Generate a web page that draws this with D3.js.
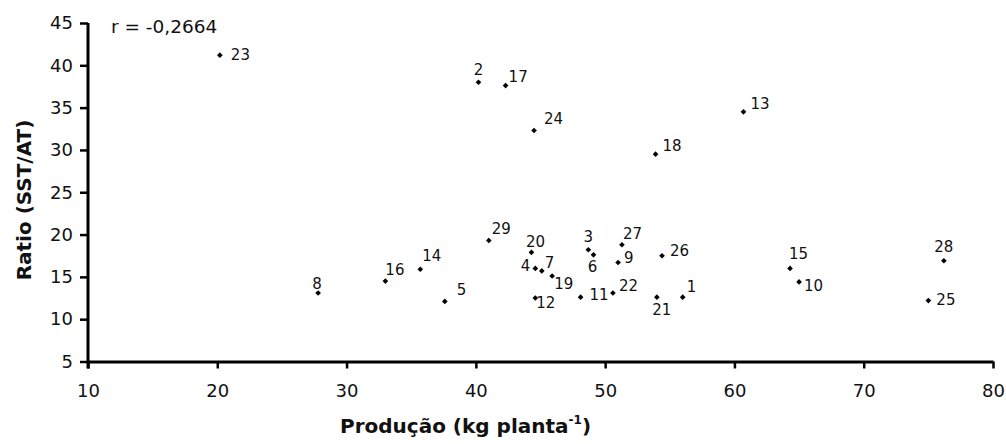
<!DOCTYPE html>
<html>
<head>
<meta charset="utf-8">
<script src="https://cdn.jsdelivr.net/npm/d3@7/dist/d3.min.js"></script>
<style>
  body { margin: 0; background: #fff; }
  svg text { font-family: "DejaVu Sans", Verdana, sans-serif; fill: #111; }
</style>
</head>
<body>
<div id="chart"></div>
<script>
// DATA
const pointIds = [1, 2, 3, 4, 5, 6, 7, 8, 9, 10, 11, 12, 13, 14, 15,
                  16, 17, 18, 19, 20, 21, 22, 23, 24, 25, 26, 27, 28, 29];
const producao = [56.0, 40.2, 48.7, 44.6, 37.6, 49.1, 45.1, 27.8, 51.0, 65.0, 48.1, 44.6, 60.7, 35.7, 64.3,
                  33.0, 42.3, 53.9, 45.9, 44.3, 54.0, 50.6, 20.2, 44.5, 75.0, 54.4, 51.3, 76.2, 41.0];
const ratio = [12.6, 38.0, 18.2, 16.0, 12.1, 17.6, 15.7, 13.1, 16.7, 14.4, 12.6, 12.5, 34.5, 15.9, 16.0,
               14.5, 37.6, 29.5, 15.1, 17.9, 12.6, 13.1, 41.2, 32.3, 12.2, 17.5, 18.8, 16.9, 19.3];
const xTicks = [10, 20, 30, 40, 50, 60, 70, 80];
const yTicks = [5, 10, 15, 20, 25, 30, 35, 40, 45];
const corrText = 'r = -0,2664';

// label placement next to each point [dx, dy, anchor] (layout only)
const labelPlace = {
  1: [4, -10, 'start'], 2: [0, -12, 'middle'], 3: [0, -13, 'middle'], 4: [-5, -2, 'end'],
  5: [12, -11, 'start'], 6: [-1, 12, 'middle'], 7: [3, -8, 'start'], 8: [-1, -9, 'middle'],
  9: [6, -4, 'start'], 10: [5, 4, 'start'], 11: [9, -2, 'start'], 12: [1, 5, 'start'],
  13: [7, -8, 'start'], 14: [2, -13, 'start'], 15: [-1, -14, 'start'], 16: [0, -11, 'start'],
  17: [3, -9, 'start'], 18: [7, -8, 'start'], 19: [2, 8, 'start'], 20: [4, -10, 'middle'],
  21: [5, 13, 'middle'], 22: [6, -7, 'start'], 23: [11, 0, 'start'], 24: [10, -11, 'start'],
  25: [8, -1, 'start'], 26: [8, -5, 'start'], 27: [1, -11, 'start'], 28: [0, -14, 'middle'],
  29: [3, -11, 'start']
};

// VIZ DIMENSIONS + MOUNTING
const width = 1006;
const height = 444;
const plotLeft = 88, plotRight = 993, plotTop = 23, plotBottom = 361.5;

const svg = d3.select('#chart').append('svg')
  .attr('width', width)
  .attr('height', height);

// SCALES
const xScale = d3.scaleLinear().domain([10, 80]).range([plotLeft, plotRight]);
const yScale = d3.scaleLinear().domain([5, 45]).range([plotBottom, plotTop]);

// AXES
const xAxis = d3.axisBottom(xScale).tickValues(xTicks).tickSize(7).tickSizeOuter(0).tickPadding(16);
const yAxis = d3.axisLeft(yScale).tickValues(yTicks).tickSize(8).tickSizeOuter(0).tickPadding(7);

const gx = svg.append('g')
  .attr('transform', `translate(0, ${plotBottom})`)
  .call(xAxis);
const gy = svg.append('g')
  .attr('transform', `translate(${plotLeft}, 0)`)
  .call(yAxis);

[gx, gy].forEach(g => {
  g.select('.domain').attr('stroke', '#000').attr('stroke-width', 3);
  g.selectAll('.tick line').attr('stroke', '#000').attr('stroke-width', 2.5);
  g.selectAll('.tick text')
    .style('font-family', '"DejaVu Sans", Verdana, sans-serif')
    .style('font-size', '18px')
    .attr('fill', '#111');
});
// the y axis line runs through the first x tick, like the original
gy.select('.domain').attr('d', `M0,${plotTop}V${plotBottom + 7}`);

// AXIS TITLES
svg.append('text')
  .attr('transform', `translate(24, 200) rotate(-90)`)
  .attr('text-anchor', 'middle')
  .attr('dominant-baseline', 'central')
  .style('font-size', '20px')
  .style('font-weight', 'bold')
  .text('Ratio (SST/AT)');

const xTitle = svg.append('text')
  .attr('x', 340)
  .attr('y', 433)
  .style('font-size', '20px')
  .style('font-weight', 'bold');
xTitle.append('tspan').text('Produção (kg planta');
xTitle.append('tspan').attr('dy', -9).style('font-size', '12px').text('-1');
xTitle.append('tspan').attr('dy', 9).text(')');

// CORRELATION NOTE
svg.append('text')
  .attr('x', 111)
  .attr('y', 26)
  .attr('dominant-baseline', 'central')
  .style('font-size', '18.5px')
  .text(corrText);

// POINTS
const pts = pointIds.map((id, i) => ({ id: id, x: producao[i], y: ratio[i] }));

const dots = svg.selectAll('g.dot')
  .data(pts)
  .enter()
  .append('g')
  .attr('class', 'dot')
  .attr('transform', d => `translate(${xScale(d.x)}, ${yScale(d.y)})`);

// small square turned 45 degrees = even diamond marker
dots.append('path')
  .attr('d', d3.symbol().type(d3.symbolSquare).size(16))
  .attr('transform', 'rotate(45)')
  .attr('fill', '#000');

dots.append('text')
  .attr('x', d => labelPlace[d.id][0])
  .attr('y', d => labelPlace[d.id][1])
  .attr('text-anchor', d => labelPlace[d.id][2])
  .attr('dominant-baseline', 'central')
  .style('font-size', '15px')
  .text(d => d.id);
</script>
</body>
</html>
